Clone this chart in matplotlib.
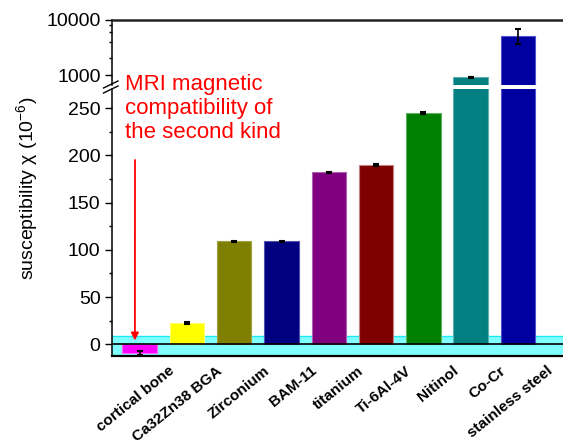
import matplotlib
matplotlib.use("Agg")
import matplotlib.pyplot as plt
from matplotlib.lines import Line2D
from matplotlib.ticker import FixedLocator, NullFormatter
import matplotlib.transforms as mtransforms
import numpy as np

plt.rcParams['font.family'] = ['Liberation Sans', 'DejaVu Sans']
plt.rcParams['mathtext.fontset'] = 'custom'
plt.rcParams['mathtext.rm'] = 'Liberation Sans'
plt.rcParams['mathtext.it'] = 'Liberation Sans:italic'

# Magnetic susceptibility of implant materials (units of 1e-6)
materials = ["cortical bone", "Ca32Zn38 BGA", "Zirconium", "BAM-11", "titanium",
             "Ti-6Al-4V", "Nitinol", "Co-Cr", "stainless steel"]
chi = [-9.2, 22.5, 109, 109, 182, 190, 245, 910, 5200]
chi_err = [2.5, 0.6, 0.6, 0.6, 0.8, 0.8, 0.8, 12, 1600]
bar_colors = ["#FF00FF", "#FFFF00", "#808000", "#000080", "#800080",
              "#800000", "#008000", "#008080", "#0000A0"]
edge_colors = ["#FF66FF", "#FFFF66", "#A0A040", "#5050B0", "#B060B0",
               "#C08080", "#60B060", "#60B0B0", "#5050D0"]
first_kind_limit = 9  # upper edge of the first-kind compatibility band

low_ticks = [0, 50, 100, 150, 200, 250]
high_ticks = [1000, 10000]

W, H = 563, 440
fig = plt.figure(figsize=(W / 100, H / 100), dpi=100)

left = 111.7 / W
right = 1.0
ax_hi = fig.add_axes([left, 1 - 84.7 / H, right - left, (84.7 - 20) / H])
ax_lo = fig.add_axes([left, 1 - 356 / H, right - left, (356 - 89.3) / H])

x = np.arange(len(materials))
width = 0.73
xlim = (-0.59, 8.95)

for ax in (ax_lo, ax_hi):
    ax.bar(x, chi, width=width, color=bar_colors, edgecolor=edge_colors,
           linewidth=0.8, zorder=3)
    ax.errorbar(x, chi, yerr=chi_err, fmt='none', ecolor='black',
                elinewidth=1.2, capsize=2.3, capthick=1.5, zorder=4)
    ax.set_xlim(*xlim)
    ax.set_xticks([])
    ax.spines['right'].set_visible(False)
    ax.tick_params(axis='y', which='major', direction='out', length=5,
                   width=1, labelsize=14, pad=3)
    ax.tick_params(axis='y', which='minor', direction='out', length=2.5,
                   width=1)

# lower (linear) part
ylo = (-12.4, 270)
ax_lo.set_ylim(*ylo)
ax_lo.axhspan(ylo[0], first_kind_limit, facecolor='#80FFFF', edgecolor='none', zorder=1)
ax_lo.axhline(first_kind_limit, color='#20E8F0', lw=1.0, zorder=2)
ax_lo.axhline(0, color='black', lw=1.2, zorder=5)
ax_lo.set_yticks(low_ticks)
ax_lo.yaxis.set_minor_locator(FixedLocator([25, 75, 125, 175, 225]))
ax_lo.spines['top'].set_visible(False)
ax_lo.spines['bottom'].set_linewidth(1.6)
ax_lo.spines['left'].set_linewidth(1.1)

# upper (log) part
ax_hi.set_yscale('log')
ax_hi.set_ylim(667, 10000)
ax_hi.yaxis.set_major_locator(FixedLocator(high_ticks))
ax_hi.set_yticklabels([str(t) for t in high_ticks])
ax_hi.yaxis.set_minor_locator(FixedLocator([2000, 4000, 6000, 8000]))
ax_hi.yaxis.set_minor_formatter(NullFormatter())
ax_hi.spines['bottom'].set_visible(False)
ax_hi.spines['top'].set_linewidth(1.8)
ax_hi.spines['top'].set_color('#222222')
ax_hi.spines['left'].set_linewidth(1.1)

# axis break marks
for dy in (0, 5):
    y0 = 1 - (93 - dy) / H
    y1 = 1 - (86 - dy) / H
    fig.add_artist(Line2D([103.5 / W, 118 / W], [y0, y1], color='black',
                          lw=1.0, transform=fig.transFigure))

# category labels
offset = mtransforms.ScaledTranslation(0, -13 / 100, fig.dpi_scale_trans)
trans = ax_lo.get_xaxis_transform() + offset
for xi, name in zip(x, materials):
    ax_lo.text(xi + 0.70, 0, name, transform=trans, rotation=39,
               rotation_mode='anchor', ha='right', va='center',
               fontsize=11, fontweight='bold', clip_on=False)

# y label
fig.text(27.5 / W, 1 - 188 / H, r'susceptibility χ (10$^{-6}$)', rotation=90,
         ha='center', va='center', fontsize=14)

# annotation
fig.text(125 / W, 1 - 74 / H, "MRI magnetic\ncompatibility of\nthe second kind",
         color='red', fontsize=16, ha='left', va='top', linespacing=1.2)
ax_lo.annotate('', xy=(0 - 0.1, first_kind_limit - 5), xycoords='data',
               xytext=(135 / W, 1 - 160 / H), textcoords='figure fraction',
               arrowprops=dict(arrowstyle='-|>', color='red', lw=1.3,
                               mutation_scale=11, shrinkA=0, shrinkB=0),
               zorder=6)

fig.savefig("out.png", dpi=100)
